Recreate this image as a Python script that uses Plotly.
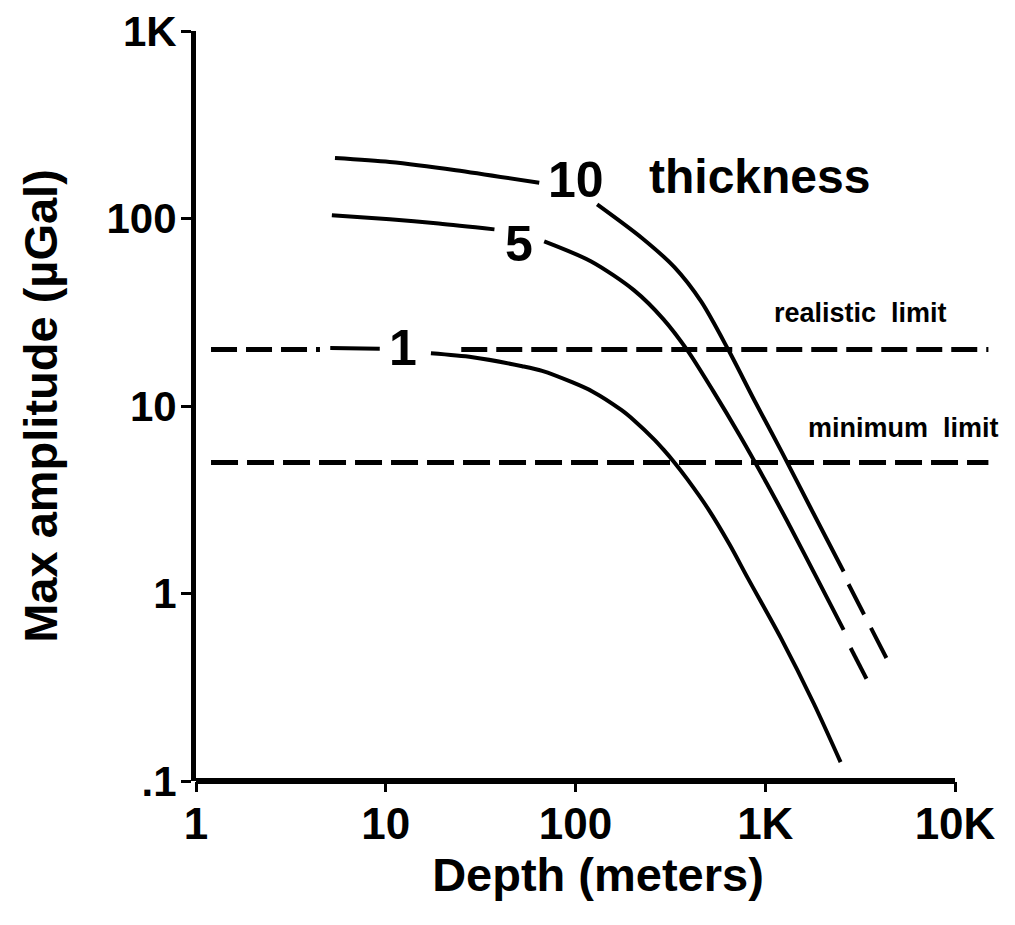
import numpy as np
import plotly.graph_objects as go

# ---- data (depth in m, max amplitude in µGal) ----
# thickness 10 (left of label, right of label, dashed extrapolation)
depth_10a = [5.4, 10.5, 23.4, 64.4]
amp_10a = [210, 200, 181, 155]
depth_10b = [130, 223, 332, 460, 638, 873, 1210, 1738, 2588]
amp_10b = [119, 79, 55, 36, 20.0, 10.8, 5.8, 2.85, 1.31]
depth_10c = [2748, 4348]
amp_10c = [1.12, 0.453]

# thickness 5
depth_5a = [5.2, 10.5, 19.0, 37.4]
amp_5a = [104, 99, 94, 87.5]
depth_5b = [68.4, 121, 203, 291, 389, 532, 738, 1021, 1300, 1937, 2588]
amp_5b = [75.5, 59, 41.5, 29, 19.8, 12.0, 6.9, 3.85, 2.45, 1.13, 0.64]
depth_5c = [2818, 3415]
amp_5c = [0.512, 0.351]

# thickness 1
depth_1a = [5.1, 9.3]
amp_1a = [20.4, 20.2]
depth_1b = [17.3, 28.7, 52.4, 66.7, 95.9, 122, 175, 203, 261, 291, 332, 389,
            501, 650, 812, 1210, 1802, 2495]
amp_1b = [19.1, 18.2, 16.3, 15.4, 13.4, 12.0, 9.5, 8.4, 6.6, 5.85, 5.0, 4.06,
          2.82, 1.82, 1.2, 0.578, 0.259, 0.126]

# detection limits
realistic_limit = 20
minimum_limit = 5
limit_depth = [1.2, 15000]
realistic_depth = [1.2, 4.5, None, 25, 15000]

# curve labels (depth, amplitude)
curve_labels = ["10", "5", "1"]
label_depth = [100, 50.6, 12.3]
label_amp = [161, 72.8, 20.3]

# ticks
x_tickvals = [1, 10, 100, 1000, 10000]
x_ticktext = ["1", "10", "100", "1K", "10K"]
y_tickvals = [0.1, 1, 10, 100, 1000]
y_ticktext = [".1", "1", "10", "100", "1K"]

FONT = "Liberation Sans"
W, H = 1015, 925
L, R, T, B = 188, 23, 23, 152
DECADE_PX = 189.75
x_range = [0, (W - R - L) / DECADE_PX]
y_range = [-1, 3]

fig = go.Figure()


def line(x, y, width=4, dash="solid"):
    fig.add_trace(go.Scatter(x=x, y=y, mode="lines",
                             line=dict(color="black", width=width, dash=dash,
                                       shape="spline", smoothing=0.8),
                             hoverinfo="skip", showlegend=False))


# limit lines
line(realistic_depth, [realistic_limit if d is not None else None for d in realistic_depth],
     width=5, dash="26px,9px")
line(limit_depth, [minimum_limit] * len(limit_depth), width=5, dash="27px,9px")

# curves
line(depth_10a, amp_10a)
line(depth_10b, amp_10b)
line(depth_10c, amp_10c, dash="34px,15px")
line(depth_5a, amp_5a)
line(depth_5b, amp_5b)
line(depth_5c, amp_5c, dash="36px,15px")
line(depth_1a, amp_1a)
line(depth_1b, amp_1b)

# x axis line drawn only from 1 to 10K
fig.add_shape(type="line", xref="x", yref="paper", x0=x_tickvals[0], x1=x_tickvals[-1],
              y0=0, y1=0, line=dict(color="black", width=6))

for t, d, a in zip(curve_labels, label_depth, label_amp):
    fig.add_annotation(x=np.log10(d), y=np.log10(a), text=t, showarrow=False,
                       font=dict(family=FONT, size=50, color="black", weight="bold"),
                       xanchor="center", yanchor="middle")

fig.add_annotation(x=np.log10(927), y=np.log10(161), yshift=3, text="thickness",
                   showarrow=False,
                   font=dict(family=FONT, size=48, color="black", weight="bold"),
                   xanchor="center", yanchor="middle")
fig.add_annotation(x=np.log10(3180), y=np.log10(realistic_limit), yshift=37,
                   text="realistic  limit", showarrow=False,
                   font=dict(family=FONT, size=27, color="black", weight="bold"),
                   xanchor="center", yanchor="middle")
fig.add_annotation(x=np.log10(5340), y=np.log10(minimum_limit), yshift=34,
                   text="minimum  limit", showarrow=False,
                   font=dict(family=FONT, size=27, color="black", weight="bold"),
                   xanchor="center", yanchor="middle")

fig.update_layout(
    width=W, height=H, autosize=False,
    margin=dict(l=L, r=R, t=T, b=B),
    paper_bgcolor="white", plot_bgcolor="white",
    font=dict(family=FONT, color="black"),
    xaxis=dict(type="log", range=x_range, showgrid=False, zeroline=False,
               showline=False, automargin=False, tickvals=x_tickvals, ticktext=x_ticktext,
               ticks="outside", ticklen=10, tickwidth=3, tickcolor="black",
               ticklabelstandoff=-6, ticklabeloverflow="allow",
               tickfont=dict(family=FONT, size=44, color="black", weight="bold"),
               title=dict(text="Depth (meters)", standoff=4,
                          font=dict(family=FONT, size=47, color="black", weight="bold"))),
    yaxis=dict(type="log", range=y_range, showgrid=False, zeroline=False,
               showline=True, linecolor="black", linewidth=5, automargin=False,
               tickvals=y_tickvals, ticktext=y_ticktext,
               ticks="outside", ticklen=10, tickwidth=3, tickcolor="black",
               ticklabelstandoff=-4, ticklabeloverflow="allow",
               tickfont=dict(family=FONT, size=42, color="black", weight="bold"),
               title=dict(text="Max amplitude (µGal)", standoff=36,
                          font=dict(family=FONT, size=47, color="black", weight="bold"))),
)

fig.write_html("out.html")
